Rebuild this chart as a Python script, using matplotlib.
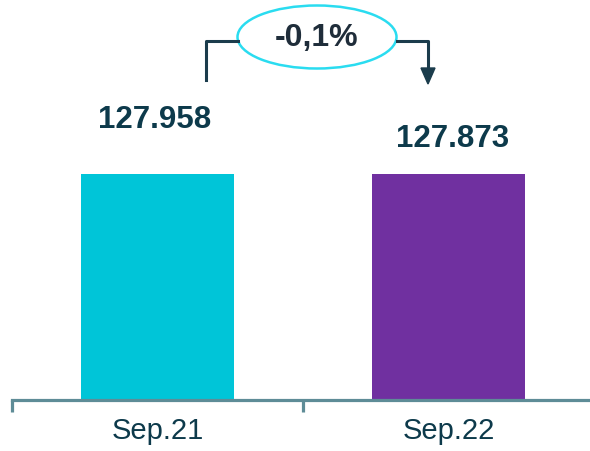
import matplotlib.pyplot as plt
from matplotlib.patches import Ellipse, Polygon

categories = ['Sep.21', 'Sep.22']
values = [127.958, 127.873]
value_labels = ['127.958', '127.873']
change_label = '-0,1%'

bar_colors = ['#00C5D8', '#7030A0']
text_color = '#0D3A4B'
axis_color = '#5E8C97'

W, H = 590, 451
plt.rcParams['font.family'] = ['Liberation Sans', 'DejaVu Sans']

fig = plt.figure(figsize=(W / 100, H / 100), dpi=100)


def px(x, y):
    # pixel position (from top-left) -> figure fraction
    return x / W, 1 - y / H


ax = fig.add_axes([12 / W, 51 / H, 582 / W, 400 / H])
xs = range(len(categories))
ax.bar(xs, values, width=0.526, color=bar_colors, zorder=1)
ax.set_xlim(-0.5, 1.5)
ax.set_ylim(0, max(values) * 400 / 226)

for s in ['top', 'left', 'right']:
    ax.spines[s].set_visible(False)
ax.spines['bottom'].set_color(axis_color)
ax.spines['bottom'].set_linewidth(2.3)
ax.spines['bottom'].set_zorder(3)
ax.set_yticks([])
ax.set_xticks(list(xs))
ax.set_xticklabels(categories, fontsize=21, color=text_color)
ax.tick_params(axis='x', which='major', length=0, pad=12)
ax.set_xticks([-0.5, 0.5, 1.5], minor=True)
ax.tick_params(axis='x', which='minor', length=8.5, width=2.3, color=axis_color)

# value labels above the bars
label_pos = [(155, 120), (453, 139)]
for lab, (lx, ly) in zip(value_labels, label_pos):
    fig.text(*px(lx, ly), lab, ha='center', va='center', fontsize=22.5,
             fontweight='bold', color=text_color)

# change bracket with ellipse
line_kw = dict(color='#1B3C4C', lw=2.2, transform=fig.transFigure)
fig.lines.append(plt.Line2D(*zip(px(206, 80), px(206, 41), px(238, 41)), **line_kw))
fig.lines.append(plt.Line2D(*zip(px(397, 41), px(428, 41), px(428, 70)), **line_kw))
fig.patches.append(Polygon([px(421, 68), px(435, 68), px(428, 84)], closed=True,
                           color='#1B3C4C', transform=fig.transFigure))
fig.patches.append(Ellipse(px(317, 37), 159 / W, 63 / H, facecolor='white',
                           edgecolor='#2ADCF0', lw=1.8, transform=fig.transFigure))
fig.text(*px(317, 38), change_label, ha='center', va='center', fontsize=23,
         fontweight='bold', color='#1F2D3A')

fig.savefig('out.png', dpi=100)
